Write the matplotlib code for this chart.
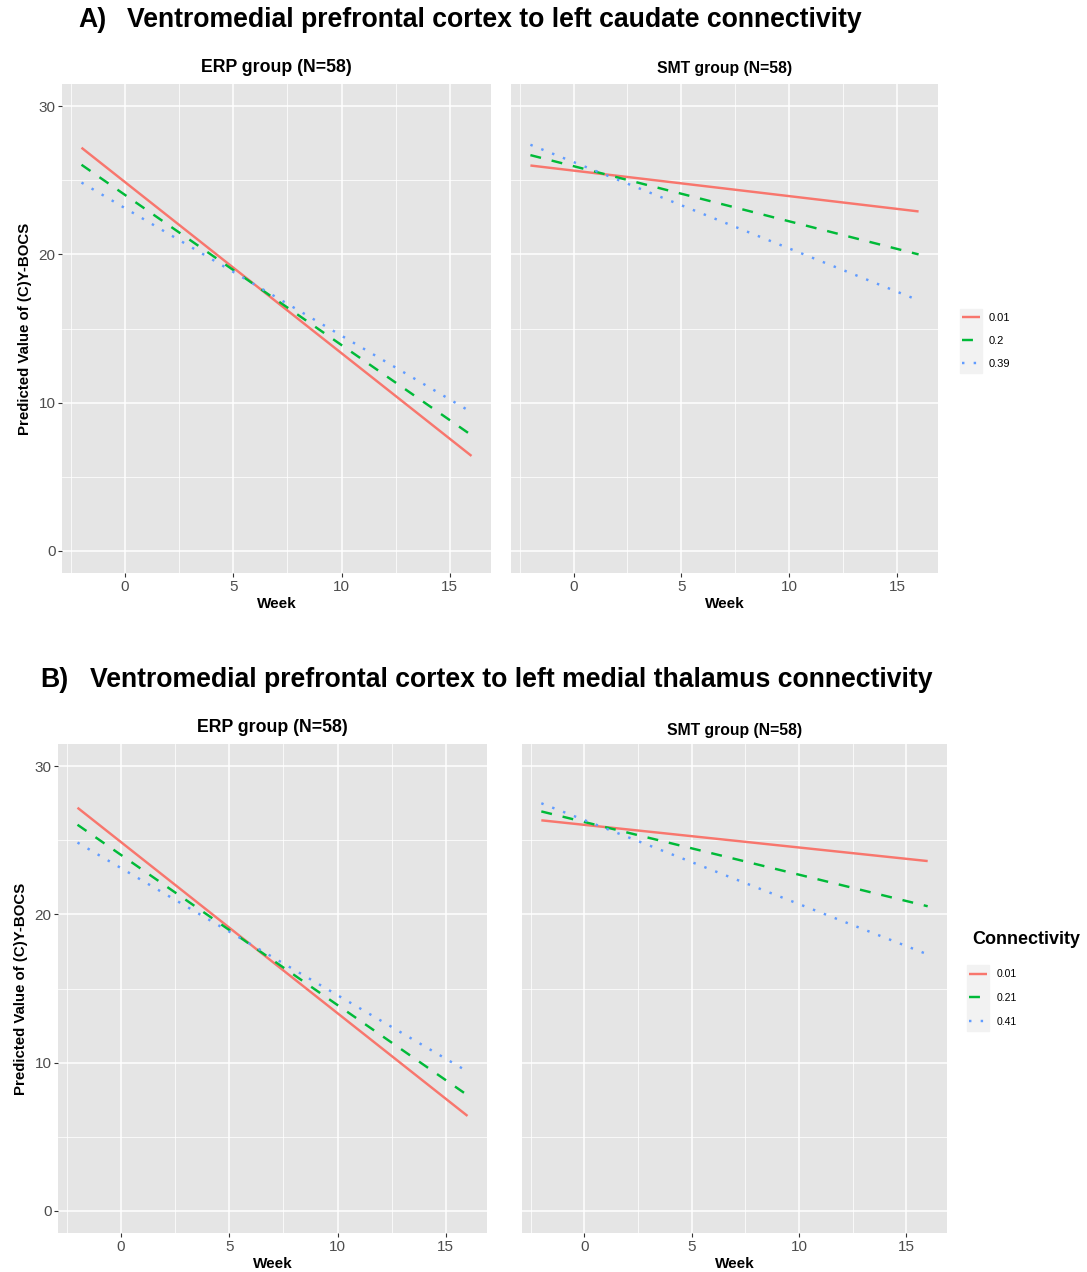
import matplotlib.pyplot as plt
from matplotlib.patches import Rectangle

plt.rcParams["font.family"] = ["Liberation Sans", "DejaVu Sans"]

W, H = 1087, 1272

# predicted (C)Y-BOCS at the first and last week, one value per connectivity level
week_span = [-2, 16]
levels_a = ["0.01", "0.2", "0.39"]
levels_b = ["0.01", "0.21", "0.41"]
erp_a_start = [27.2, 26.05, 24.85]
erp_a_end = [6.4, 7.8, 9.35]
smt_a_start = [26.0, 26.7, 27.4]
smt_a_end = [22.9, 20.0, 16.9]
erp_b_start = [27.2, 26.05, 24.85]
erp_b_end = [6.4, 7.8, 9.4]
smt_b_start = [26.35, 26.95, 27.5]
smt_b_end = [23.6, 20.55, 17.3]

colors = ["#F8766D", "#00BA38", "#619CFF"]
styles = ["-", (0, (4.5, 4.5)), (0, (1, 3.8))]

fig = plt.figure(figsize=(W / 100, H / 100), dpi=100)


def box(x0, y0, x1, y1):
    return [x0 / W, 1 - y1 / H, (x1 - x0) / W, (y1 - y0) / H]


def panel(rect, title, tsize, tgap, starts, ends, show_y):
    ax = fig.add_axes(box(*rect))
    ax.set_facecolor("#E5E5E5")
    for s in ax.spines.values():
        s.set_visible(False)
    lines = []
    for y0, y1, c, ls in zip(starts, ends, colors, styles):
        ln, = ax.plot(week_span, [y0, y1], color=c, ls=ls, lw=1.75,
                      solid_capstyle="butt", zorder=3)
        lines.append(ln)
    ax.set_xlim(-2.9, 16.9)
    ax.set_ylim(-1.5, 31.5)
    ax.set_xticks([0, 5, 10, 15])
    ax.set_xticks([-2.5, 2.5, 7.5, 12.5], minor=True)
    ax.set_yticks([0, 10, 20, 30])
    ax.set_yticks([5, 15, 25], minor=True)
    ax.grid(which="major", color="white", lw=1.1)
    ax.grid(which="minor", color="white", lw=0.55)
    ax.set_axisbelow(True)
    ax.tick_params(which="minor", length=0)
    ax.tick_params(which="major", length=2.75, width=0.8, color="#333333",
                   labelsize=11, labelcolor="#4D4D4D", pad=2)
    if show_y:
        ax.set_ylabel("Predicted Value of (C)Y-BOCS", fontsize=10.8,
                      fontweight="bold", va="center")
        ax.yaxis.set_label_coords(-37 / (rect[2] - rect[0]), 0.5)
    else:
        ax.tick_params(axis="y", left=False, labelleft=False)
    ax.set_xlabel("Week", fontsize=11, fontweight="bold", va="center")
    ax.xaxis.set_label_coords(0.5, -31 / (rect[3] - rect[1]))
    ax.text(0.5, 1 + tgap / (rect[3] - rect[1]), title, transform=ax.transAxes,
            ha="center", va="center", fontsize=tsize, fontweight="bold")
    return lines


def legend(lines, labels, x, ytop, ybot, tx, size, spacing):
    fig.add_artist(Rectangle((x / W, 1 - ybot / H), 22 / W, (ybot - ytop) / H,
                             transform=fig.transFigure, color="#F2F2F2", zorder=0))
    fig.legend(lines, labels, loc="center left",
               bbox_to_anchor=((x + 2) / W, 1 - (ytop + ybot) / 2 / H),
               frameon=False, fontsize=size, handlelength=18 / (size * 1.39),
               handletextpad=(tx - x - 20) / (size * 1.39), borderpad=0,
               borderaxespad=0, labelspacing=spacing)


# A) caudate
fig.text(78 / W, 1 - 20 / H, "A)", fontsize=19.2, fontweight="bold", va="center")
fig.text(127 / W, 1 - 20 / H,
         "Ventromedial prefrontal cortex to left caudate connectivity",
         fontsize=19.2, fontweight="bold", va="center")
la = panel((62, 84, 491, 573), "ERP group (N=58)", 12.8, 17,
           erp_a_start, erp_a_end, True)
panel((511, 84, 938, 573), "SMT group (N=58)", 11.3, 16,
      smt_a_start, smt_a_end, False)
legend(la, levels_a, 960, 309, 373, 989, 8, 1.2)

# B) medial thalamus
fig.text(40 / W, 1 - 680 / H, "B)", fontsize=19.2, fontweight="bold", va="center")
fig.text(90 / W, 1 - 680 / H,
         "Ventromedial prefrontal cortex to left medial thalamus connectivity",
         fontsize=19.2, fontweight="bold", va="center")
lb = panel((58, 744, 487, 1233), "ERP group (N=58)", 12.8, 17,
           erp_b_start, erp_b_end, True)
panel((522, 744, 947, 1233), "SMT group (N=58)", 11.3, 14,
      smt_b_start, smt_b_end, False)
fig.text(972 / W, 1 - 940 / H, "Connectivity", fontsize=13, fontweight="bold",
         va="center")
legend(lb, levels_b, 967, 965, 1031, 997, 7.5, 1.3)

fig.savefig("out.png", dpi=100)
